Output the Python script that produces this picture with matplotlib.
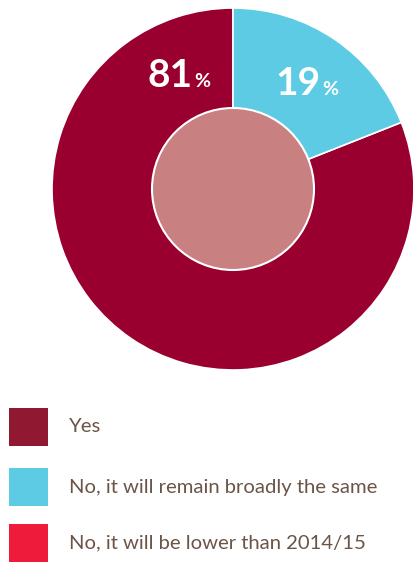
import matplotlib.pyplot as plt
from matplotlib.patches import Rectangle, Circle

labels = ['Yes', 'No, it will remain broadly the same', 'No, it will be lower than 2014/15']
values = [81, 19, 0]
pie_colors = ['#990030', '#5ecbe4', '#ee1c3a']
legend_colors = ['#901830', '#5ecbe4', '#ee1c3a']
text_color = '#6b5548'

W, H = 414, 562
fig = plt.figure(figsize=(W / 100, H / 100), dpi=100)

# pie axes: centre (233, 189) px, radius 181 px
cx, cy, r = 233, 189, 181
ax = fig.add_axes([(cx - r) / W, (H - cy - r) / H, 2 * r / W, 2 * r / H])
ax.pie(values[:2], colors=pie_colors[:2], startangle=90,
       counterclock=True, radius=1,
       wedgeprops=dict(linewidth=1.2, edgecolor='white'))
ax.add_patch(Circle((0, 0), 81 / r, facecolor='#c88080', edgecolor='white', lw=1.5, zorder=3))
ax.set_xlim(-1, 1)
ax.set_ylim(-1, 1)
ax.set_aspect('equal')
ax.axis('off')

# value labels
def pct_label(x, y, v):
    fig.text(x / W, 1 - y / H, f'{v}', color='white', fontsize=28,
             fontweight='bold', ha='right', va='baseline', family='Lato')
    fig.text(x / W + 0.002, 1 - y / H, '%', color='white', fontsize=14,
             fontweight='bold', ha='left', va='baseline', family='Lato')

pct_label(193, 87, values[0])
pct_label(321, 95, values[1])

# legend
rows_y = [427, 487, 543]
for lab, col, y in zip(labels, legend_colors, rows_y):
    fig.add_artist(Rectangle((9 / W, 1 - (y + 19) / H), 39 / W, 38 / H,
                             facecolor=col, edgecolor='none', transform=fig.transFigure))
    fig.text(69 / W, 1 - y / H, lab, color=text_color, fontsize=14.6,
             ha='left', va='center', family='Lato')

fig.savefig('out.png', dpi=100)
